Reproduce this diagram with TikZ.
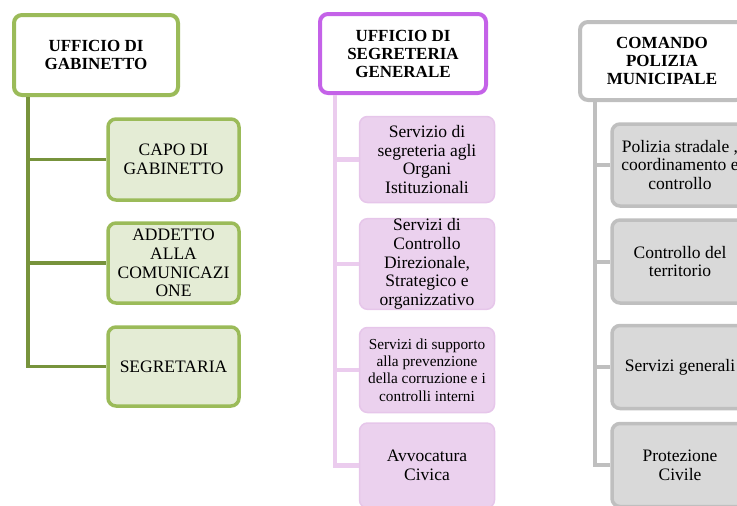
\documentclass[tikz,border=0pt]{standalone}
\usepackage{fontspec}
\setmainfont{Liberation Serif}
\definecolor{gborder}{HTML}{9BBB59}
\definecolor{gline}{HTML}{77933C}
\definecolor{gfill}{HTML}{E4ECD5}
\definecolor{pborder}{HTML}{C462E8}
\definecolor{pline}{HTML}{EBCCEE}
\definecolor{pfill}{HTML}{EBD1EE}
\definecolor{pedge}{HTML}{E6C6EA}
\definecolor{kborder}{HTML}{BFBFBF}
\definecolor{kfill}{HTML}{D9D9D9}
\begin{document}
\begin{tikzpicture}[x=1pt,y=-1pt,
  hdr/.style={draw, line width=4pt, fill=white, rounded corners=8pt, align=center,
    inner sep=0pt, font=\fontsize{17}{18}\selectfont\bfseries},
  child/.style={line width=3.5pt, rounded corners=8pt, align=center, inner sep=0pt,
    font=\fontsize{17.5}{18.7}\selectfont},
  pchild/.style={child, draw=pedge, line width=1.5pt, fill=pfill, minimum width=135pt},
  gconn/.style={draw=gline, line width=3.5pt},
  pconn/.style={draw=pline, line width=4.5pt},
  kconn/.style={draw=kborder, line width=4pt},
]
\useasboundingbox (0,0) rectangle (737,506);
\clip (0,0) rectangle (737,506);

% ---------- green ----------
\node[hdr, draw=gborder, minimum width=164pt, minimum height=80pt] (g0) at (96,55) {UFFICIO DI\\GABINETTO};
\node[child, draw=gborder, fill=gfill, minimum width=131pt, minimum height=81pt] (g1) at (173.5,159.5) {CAPO DI\\GABINETTO};
\node[child, draw=gborder, fill=gfill, minimum width=131pt, minimum height=80pt] (g2) at (173.5,263) {ADDETTO\\ALLA\\COMUNICAZI\\ONE};
\node[child, draw=gborder, fill=gfill, minimum width=131pt, minimum height=79pt] (g3) at (173.5,366.5) {SEGRETARIA};
\coordinate (gtop) at ([xshift=16pt]g0.south west);
\draw[gconn] (gtop) |- (g3.west);
\draw[gconn] (gtop |- g1.west) -- (g1.west);
\draw[gconn] (gtop |- g2.west) -- (g2.west);

% ---------- purple ----------
\node[hdr, draw=pborder, minimum width=166pt, minimum height=79pt] (p0) at (403,53.5) {UFFICIO DI\\SEGRETERIA\\GENERALE};
\node[pchild, minimum height=86pt] (p1) at (427,159.5) {Servizio di\\segreteria agli\\Organi\\Istituzionali};
\node[pchild, minimum height=87pt] (p2) at (427,264) {Servizi di\\Controllo\\Direzionale,\\Strategico e\\organizzativo};
\node[pchild, minimum height=85pt, font=\fontsize{15.3}{17.2}\selectfont] (p3) at (427,370) {Servizi di supporto\\alla prevenzione\\della corruzione e i\\controlli interni};
\node[pchild, minimum height=85pt] (p4) at (427,465.5) {Avvocatura\\Civica};
\coordinate (ptop) at ([xshift=17pt]p0.south west);
\draw[pconn] (ptop) |- (p4.west);
\draw[pconn] (ptop |- p1.west) -- (p1.west);
\draw[pconn] (ptop |- p2.west) -- (p2.west);
\draw[pconn] (ptop |- p3.west) -- (p3.west);

% ---------- grey ----------
\node[hdr, draw=kborder, minimum width=164pt, minimum height=78pt] (k0) at (662,61) {COMANDO\\POLIZIA\\MUNICIPALE};
\node[child, draw=kborder, fill=kfill, minimum width=136pt, minimum height=82pt] (k1) at (680,165) {Polizia stradale ,\\coordinamento e\\controllo};
\node[child, draw=kborder, fill=kfill, minimum width=136pt, minimum height=83pt] (k2) at (680,261.5) {Controllo del\\territorio};
\node[child, draw=kborder, fill=kfill, minimum width=136pt, minimum height=83pt] (k3) at (680,367) {Servizi generali};
\node[child, draw=kborder, fill=kfill, minimum width=136pt, minimum height=83pt] (k4) at (680,465) {Protezione\\Civile};
\coordinate (ktop) at ([xshift=17pt]k0.south west);
\draw[kconn] (ktop) |- (k4.west);
\draw[kconn] (ktop |- k1.west) -- (k1.west);
\draw[kconn] (ktop |- k2.west) -- (k2.west);
\draw[kconn] (ktop |- k3.west) -- (k3.west);
\end{tikzpicture}
\end{document}
